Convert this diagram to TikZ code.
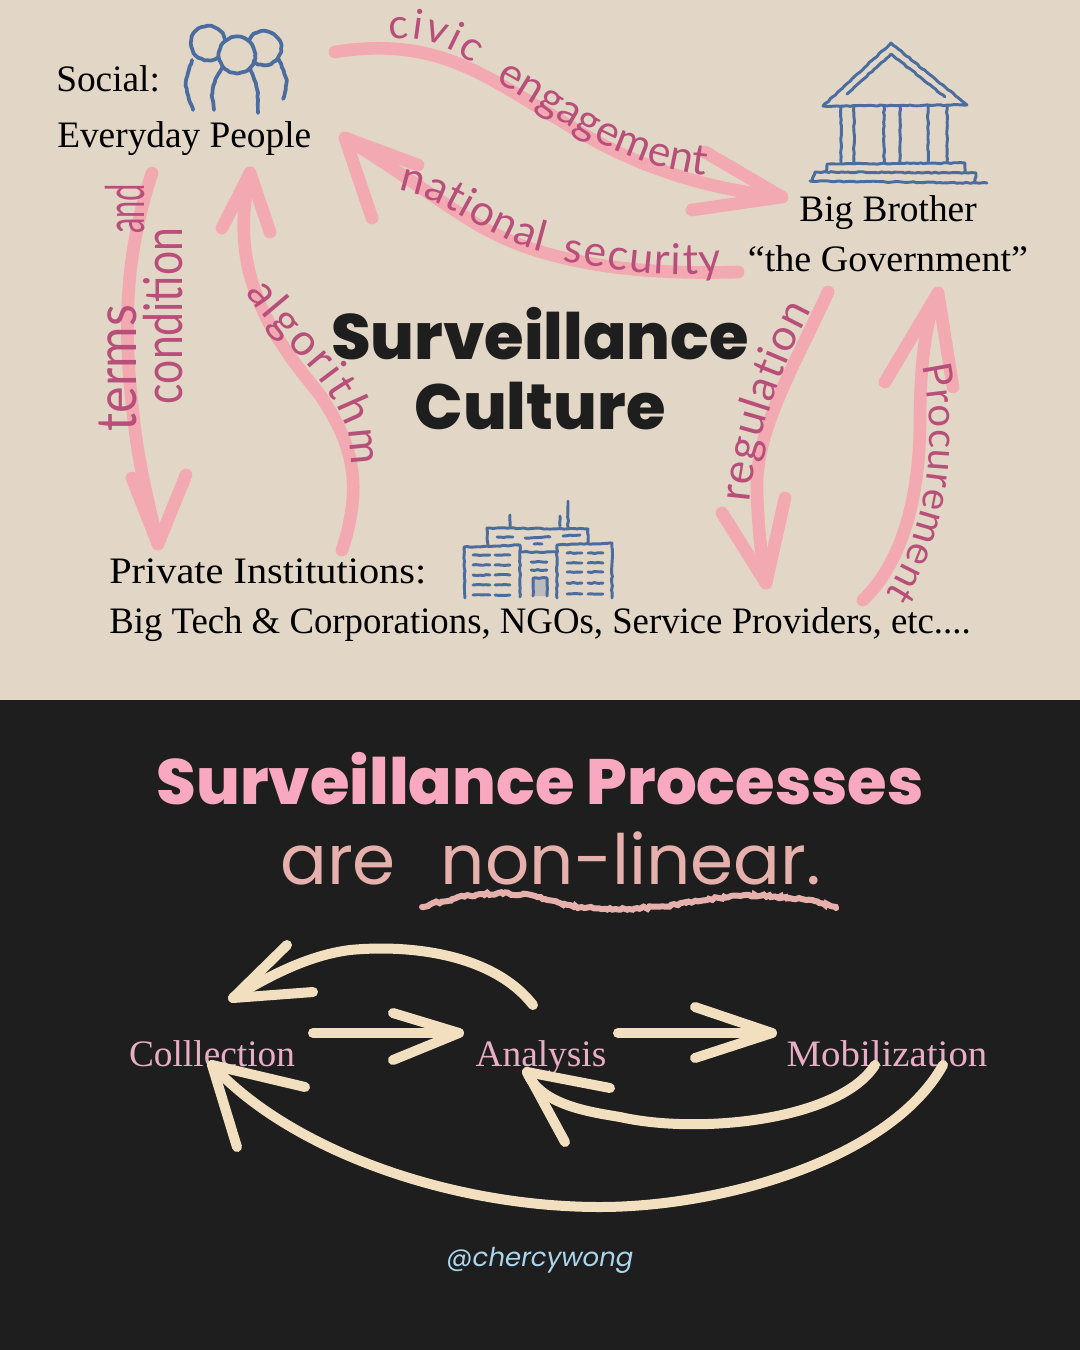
\documentclass[tikz,border=0pt]{standalone}
\usepackage{fontspec}
\usetikzlibrary{decorations.text,decorations.pathmorphing}
\setmainfont{Liberation Serif}
\newfontfamily\popf{Poppins}
\newfontfamily\popx{Poppins}[UprightFont=* ExtraBold]
\newfontfamily\chalkf{Poppins}
\newfontfamily\handf{Lato}
\definecolor{beige}{HTML}{E2D6C6}
\definecolor{ink}{HTML}{1E1E1E}
\definecolor{pinkline}{HTML}{F2A9B2}
\definecolor{lab}{HTML}{B84F7A}
\definecolor{iconblue}{HTML}{4A6C9E}
\definecolor{cream}{HTML}{F1DFBF}
\definecolor{titlepink}{HTML}{F8A9C0}
\definecolor{procpink}{HTML}{E8AFC4}
\definecolor{chalk}{HTML}{E6B0AC}
\definecolor{handle}{HTML}{A9D6EC}
\tikzset{
  pinkarrow/.style={draw=pinkline,line width=9.5pt,line cap=round,line join=round},
  creamarrow/.style={draw=cream,line width=7.5pt,line cap=round,line join=round},
  icon/.style={draw=iconblue,line width=2.8pt,line cap=round,line join=round,
    decorate,decoration={random steps,segment length=2.5pt,amplitude=.4pt}},
  iconthin/.style={icon,line width=2.2pt},
  serif/.style={inner sep=0pt,anchor=base west,font=\fontsize{28}{30}\selectfont,text=black},
  serifc/.style={serif,anchor=base},
  procname/.style={serifc,text=procpink,font=\fontsize{28}{30}\selectfont},
  bigtitle/.style={inner sep=0pt,anchor=base,text=ink,font=\popx\fontsize{48}{50}\selectfont},
  rotlab/.style={inner sep=0pt,anchor=base,text=lab},
  curvelab/.style={decorate,decoration={text along path,text align={fit to path}}},
  chalktext/.style={inner sep=0pt,anchor=base,text=chalk,font=\chalkf\fontsize{52}{54}\selectfont},
}
\newcommand\hsz[1]{\handf\fontsize{#1}{#1}\selectfont\color{lab}}
\begin{document}
\begin{tikzpicture}[x=.75pt,y=-.75pt]
\useasboundingbox (0,0) rectangle (1080,1350);
\fill[beige] (0,0) rectangle (1080,700);
\fill[ink] (0,700) rectangle (1080,1350);

% ---------- pink arrows
\coordinate (civicS) at (335,52);
\coordinate (civicT) at (782,197);
\coordinate (secS) at (738,272);
\coordinate (secT) at (345,138);
\coordinate (termS) at (152,173);
\coordinate (termT) at (158,544);
\coordinate (algS) at (342,550);
\coordinate (algT) at (250,173);
\coordinate (regS) at (828,292);
\coordinate (regT) at (766,583);
\coordinate (proS) at (863,600);
\coordinate (proT) at (938,293);

\draw[pinkarrow] (civicS) .. controls (440,35) and (490,80) .. (560,120) .. controls (630,165) and (700,188) .. (civicT);
\draw[pinkarrow] (705,152) -- (civicT) -- (692,210);
\draw[pinkarrow] (secS) .. controls (640,275) and (540,265) .. (470,220) .. controls (430,195) and (390,165) .. (secT);
\draw[pinkarrow] (418,165) -- (secT) -- (372,218);
\draw[pinkarrow] (termS) .. controls (120,270) and (125,350) .. (135,430) .. controls (140,470) and (150,510) .. (termT);
\draw[pinkarrow] (132,478) -- (termT) -- (186,475);
\draw[pinkarrow] (algS) .. controls (365,480) and (350,440) .. (320,395) .. controls (280,345) and (225,280) .. (algT);
\draw[pinkarrow] (222,228) -- (algT) -- (270,232);
\draw[pinkarrow] (regS) .. controls (795,365) and (755,430) .. (757,490) .. controls (758,530) and (762,560) .. (regT);
\draw[pinkarrow] (722,513) -- (regT) -- (785,498);
\draw[pinkarrow] (proS) .. controls (905,560) and (920,490) .. (920,420) .. controls (920,370) and (925,320) .. (proT);
\draw[pinkarrow] (885,382) -- (proT) -- (953,387);

% ---------- curved labels
\path[curvelab,decoration={text={|\hsz{31}|civic}}] (390,40) .. controls (415,34) and (450,45) .. (472,64);
\path[curvelab,decoration={text={|\hsz{32}|engagement}}] (495,82) .. controls (550,110) and (610,165) .. (706,175);
\path[curvelab,decoration={text={|\hsz{32}|national}}] (398,190) .. controls (440,195) and (490,240) .. (542,252);
\path[curvelab,decoration={text={|\hsz{32}|security}}] (562,262) .. controls (610,268) and (670,280) .. (722,272);
\path[curvelab,decoration={text={|\hsz{33}|algorithm}}] (246,292) .. controls (272,340) and (358,392) .. (350,466);
\path[curvelab,decoration={text={|\hsz{33}|regulation}}] (750,503) .. controls (755,440) and (780,370) .. (812,310);
\path[curvelab,decoration={text={|\hsz{30}|Procurement}}] (922,366) .. controls (938,440) and (930,525) .. (886,594);

\node[rotlab,rotate=90,xscale=.9,font=\handf\fontsize{42}{42}\selectfont] (termsL) at (136,368) {terms};
\node[rotlab,rotate=90,xscale=.58,font=\handf\fontsize{40}{40}\selectfont] (andL) at (144,209) {and};
\node[rotlab,rotate=90,xscale=.8,font=\handf\fontsize{40}{40}\selectfont] (condL) at (182,316) {condition};

% ---------- people icon
\draw[icon] (208,43) circle (17);
\draw[icon] (264,48) circle (17);
\fill[beige] (237,55) circle (18);
\draw[icon] (237,55) circle (18);
\draw[icon] (192,60) .. controls (184,85) .. (193,110);
\draw[icon] (222,68) .. controls (211,87) .. (214,110);
\draw[icon] (250,68) .. controls (258,87) .. (258,113);
\draw[icon] (278,58) .. controls (288,80) .. (283,99);

% ---------- temple icon
\draw[iconthin] (823,106) -- (891,43) -- (967,105) -- cycle;
\draw[iconthin] (847,94) -- (891,54) -- (945,97);
\foreach \cx in {841,854,884,900,928,947} \draw[iconthin] (\cx,106) -- (\cx,163);
\draw[iconthin] (826,172) -- (827,164) -- (965,163) -- (965,172);
\draw[iconthin] (812,181) -- (815,172) -- (976,173) -- (975,183);
\draw[iconthin] (810,181) -- (987,183);

% ---------- building icon
\draw[iconthin] (465,598) -- (464,547) -- (520,545) -- (520,597);
\draw[iconthin] (557,598) -- (557,545) -- (612,543) -- (612,598);
\draw[iconthin] (488,545) -- (487,528) -- (588,529) -- (588,543);
\draw[iconthin] (520,552) -- (557,552);
\draw[iconthin] (510,515) -- (510,527);
\draw[iconthin] (560,516) -- (560,526);
\draw[iconthin] (568,501) -- (568,527);
\draw[iconthin,fill=iconblue!25!beige] (533,596) -- (533,578) -- (547,578) -- (547,596);
\foreach \wy in {555,565,575,585,595} {
  \draw[iconthin] (473,\wy) -- (490,\wy);
  \draw[iconthin] (495,\wy) -- (510,\wy);
}
\foreach \wy in {553,563,572,583,594} {
  \draw[iconthin] (567,\wy) -- (582,\wy);
  \draw[iconthin] (588,\wy) -- (603,\wy);
}
\draw[iconthin] (497,537) -- (513,537);
\draw[iconthin] (525,538) -- (550,537);
\draw[iconthin] (563,536) -- (580,535);
\draw[iconthin] (534,544) -- (542,544);
\draw[iconthin] (531,562) -- (547,562);
\draw[iconthin] (531,570) -- (547,570);

% ---------- serif text, upper panel
\node[serif] (social) at (56,91) {Social:};
\node[serif] (everyday) at (57,147) {Everyday People};
\node[serifc] (bigbro) at (888,221) {Big Brother};
\node[serifc,xscale=1.02] (gov) at (888,271) {“the Government”};
\node[serif,xscale=1.08] (priv) at (109,583) {Private Institutions:};
\node[serif,xscale=.985] (bigtech) at (109,633) {Big Tech \& Corporations, NGOs, Service Providers, etc....};
\node[bigtitle] (t1) at (540,359) {Surveillance};
\node[bigtitle] (t2) at (540,429) {Culture};

% ---------- lower panel
\node[bigtitle,text=titlepink] (t3) at (540,804) {Surveillance Processes};
\node[chalktext] (are) at (338,884) {are};
\node[chalktext] (nonlin) at (631,884) {non-linear.};
\draw[draw=chalk,line width=4.5pt,line cap=round,decorate,decoration={random steps,segment length=2pt,amplitude=1pt}]
  (422,907) .. controls (470,892) and (515,888) .. (560,903) .. controls (600,914) and (660,908) .. (700,901) .. controls (750,892) and (800,895) .. (836,908);

\node[procname] (coll) at (212,1066) {Colllection};
\node[procname] (ana) at (541,1066) {Analysis};
\node[procname,xscale=1.04] (mob) at (887,1066) {Mobilization};

\coordinate (aS) at (533,1005);
\coordinate (aT) at (233,998);
\coordinate (bS) at (313,1033);
\coordinate (bT) at (459,1033);
\coordinate (cS) at (618,1033);
\coordinate (cT) at (772,1033);
\coordinate (dS) at (875,1065);
\coordinate (dT) at (527,1072);
\coordinate (eS) at (943,1065);
\coordinate (eT) at (212,1065);

\draw[creamarrow] (aS) .. controls (490,950) and (400,945) .. (350,950) .. controls (310,955) and (270,975) .. (aT);
\draw[creamarrow] (287,945) -- (aT) -- (313,992);
\draw[creamarrow] (bS) -- (bT);
\draw[creamarrow] (393,1013) -- (bT) -- (393,1060);
\draw[creamarrow] (cS) -- (cT);
\draw[creamarrow] (695,1007) -- (cT) -- (695,1058);
\draw[creamarrow] (dS) .. controls (840,1120) and (700,1135) .. (620,1117) .. controls (590,1112) and (540,1105) .. (dT);
\draw[creamarrow] (565,1142) -- (dT) -- (610,1088);
\draw[creamarrow] (eS) .. controls (890,1160) and (720,1207) .. (600,1207) .. controls (450,1207) and (290,1150) .. (eT);
\draw[creamarrow] (237,1147) -- (eT) -- (305,1087);

\node[inner sep=0pt,anchor=base,text=handle,font=\popf\itshape\fontsize{19.5}{22}\selectfont] (credit) at (540,1266) {@chercywong};
\end{tikzpicture}
\end{document}
